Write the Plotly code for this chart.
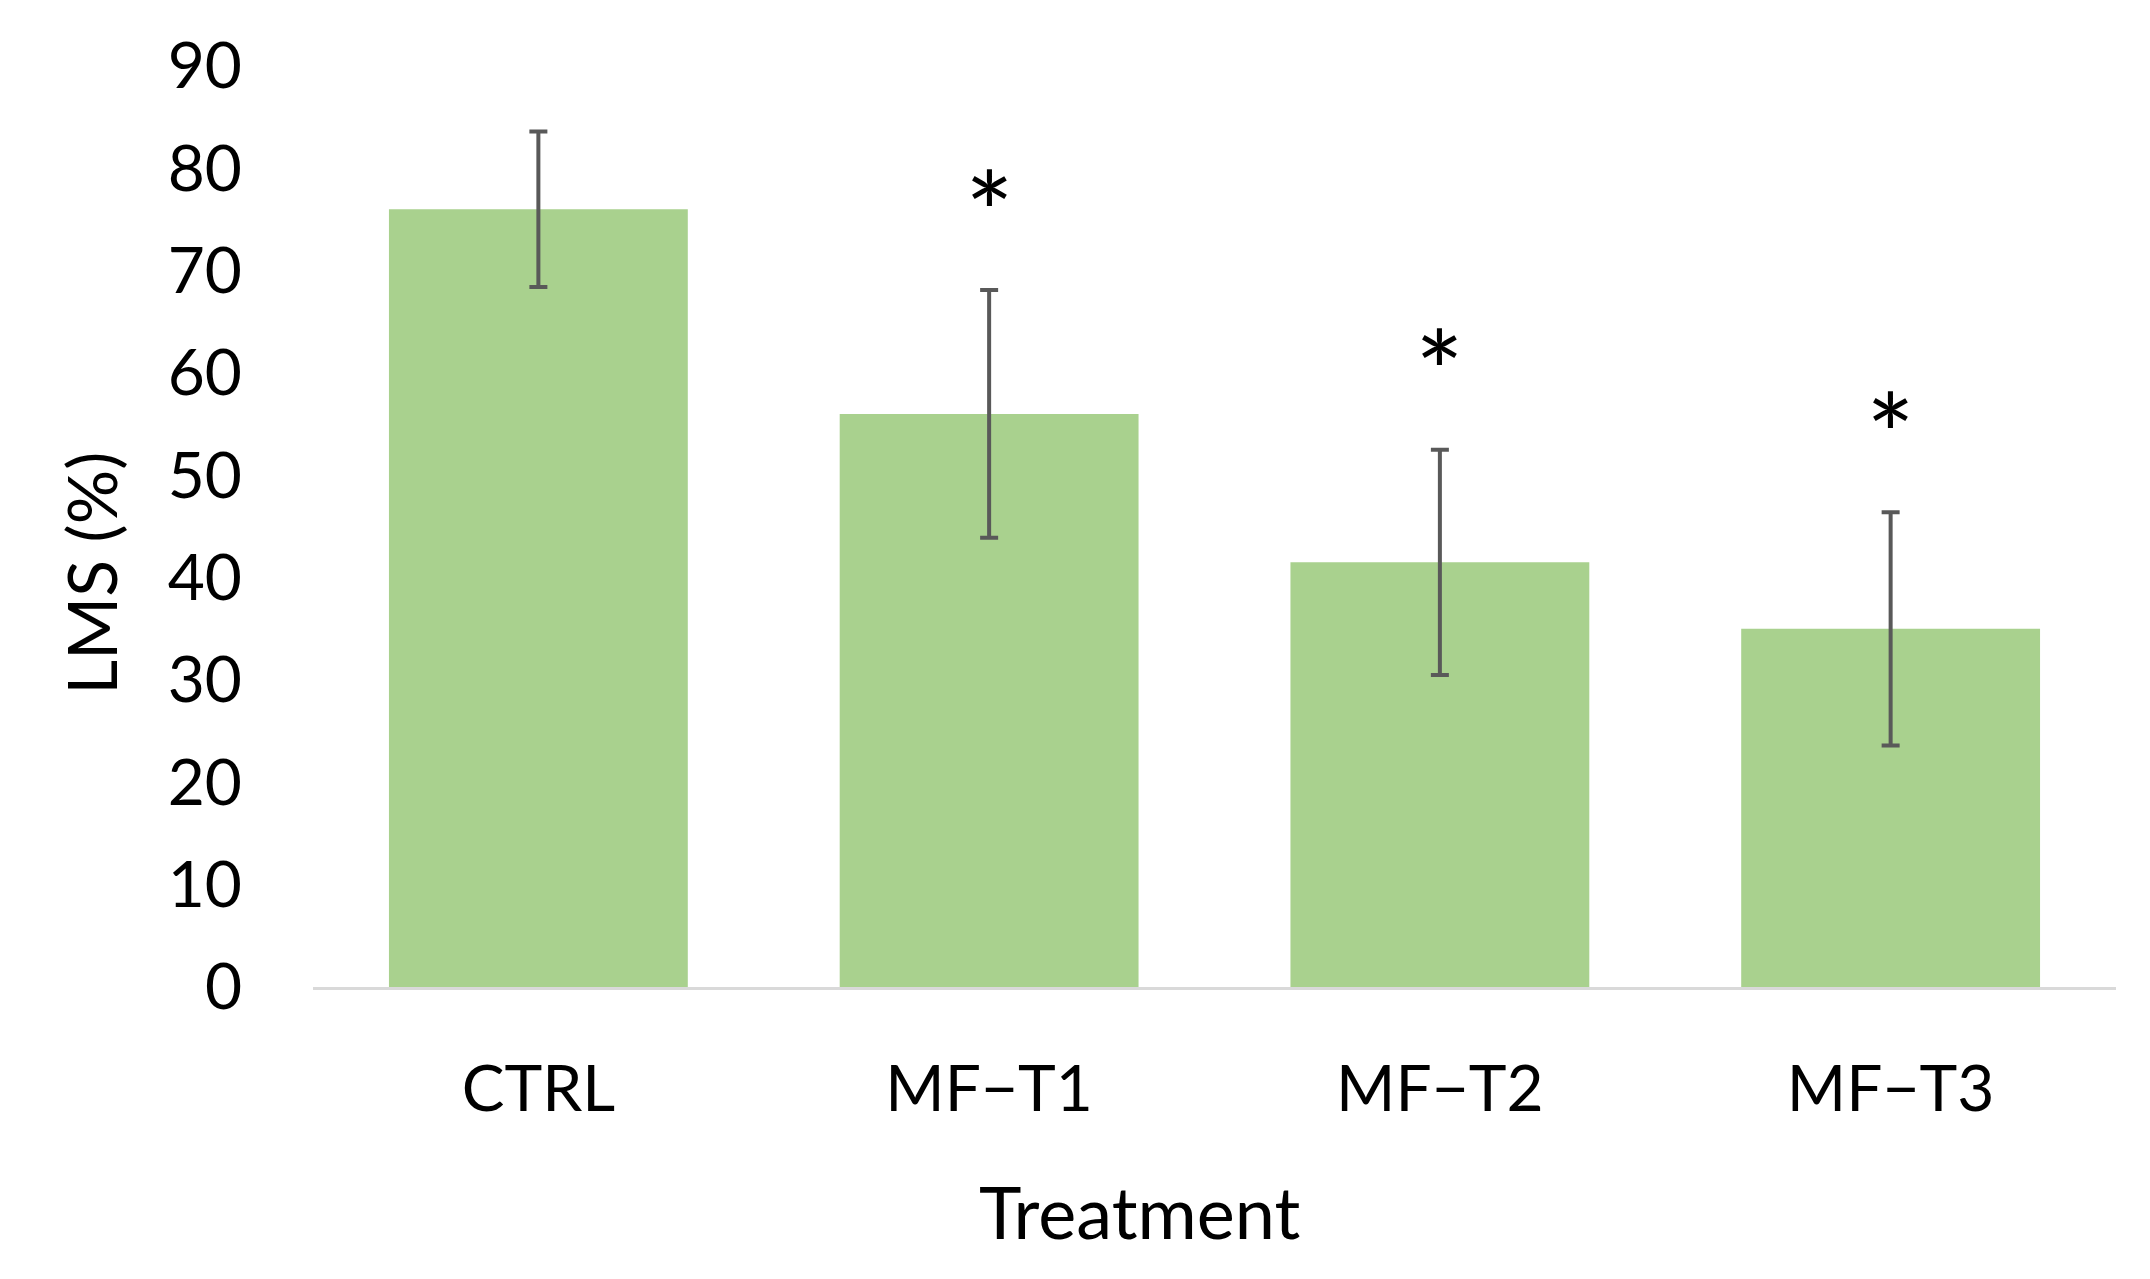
import plotly.graph_objects as go

categories = ["CTRL", "MF\u2212T1", "MF\u2212T2", "MF\u2212T3"]
lms_mean = [76.0, 56.0, 41.5, 35.0]
lms_err = [7.6, 12.1, 11.0, 11.4]
significant = [False, True, True, True]
y_ticks = [0, 10, 20, 30, 40, 50, 60, 70, 80, 90]

FONT = "Lato, 'Open Sans', sans-serif"

fig = go.Figure()
fig.add_trace(go.Bar(
    x=categories, y=lms_mean,
    marker=dict(color="#A9D18E", line=dict(width=0)),
    width=0.663,
    error_y=dict(type="data", array=lms_err, visible=True,
                 color="#595959", thickness=4, width=9),
    showlegend=False,
))

for cat, m, e, s in zip(categories, lms_mean, lms_err, significant):
    if s:
        fig.add_annotation(x=cat, y=m + e + 10, xref="x", yref="y",
                           text="*", showarrow=False, yanchor="middle",
                           yshift=-22,
                           font=dict(family=FONT, size=115, color="#000000"))

fig.add_annotation(x=0.4585, xref="paper", y=-0.243, yref="paper",
                   text="Treatment", showarrow=False, yanchor="middle",
                   font=dict(family=FONT, size=72, color="#000000"))

fig.add_annotation(x=-0.1235, xref="paper", y=0.449, yref="paper",
                   text="LMS (%)", showarrow=False, textangle=-90,
                   xanchor="center", yanchor="middle",
                   font=dict(family=FONT, size=68, color="#000000"))

fig.update_layout(
    width=2150, height=1279,
    margin=dict(l=313, r=34, t=66, b=292),
    paper_bgcolor="white", plot_bgcolor="white",
    font=dict(family=FONT, size=64, color="#000000"),
    bargap=0.337,
)
fig.update_xaxes(
    showline=True, linecolor="#D9D9D9", linewidth=3,
    showgrid=False, ticks="", ticklabelstandoff=44,
    tickfont=dict(family=FONT, size=64, color="#000000"),
)
fig.update_yaxes(
    range=[0, 90], tickvals=y_ticks, showgrid=False, zeroline=False,
    showline=False, ticks="", ticklabelstandoff=70,
    tickfont=dict(family=FONT, size=64, color="#000000"),
)

fig.write_html("out.html")
